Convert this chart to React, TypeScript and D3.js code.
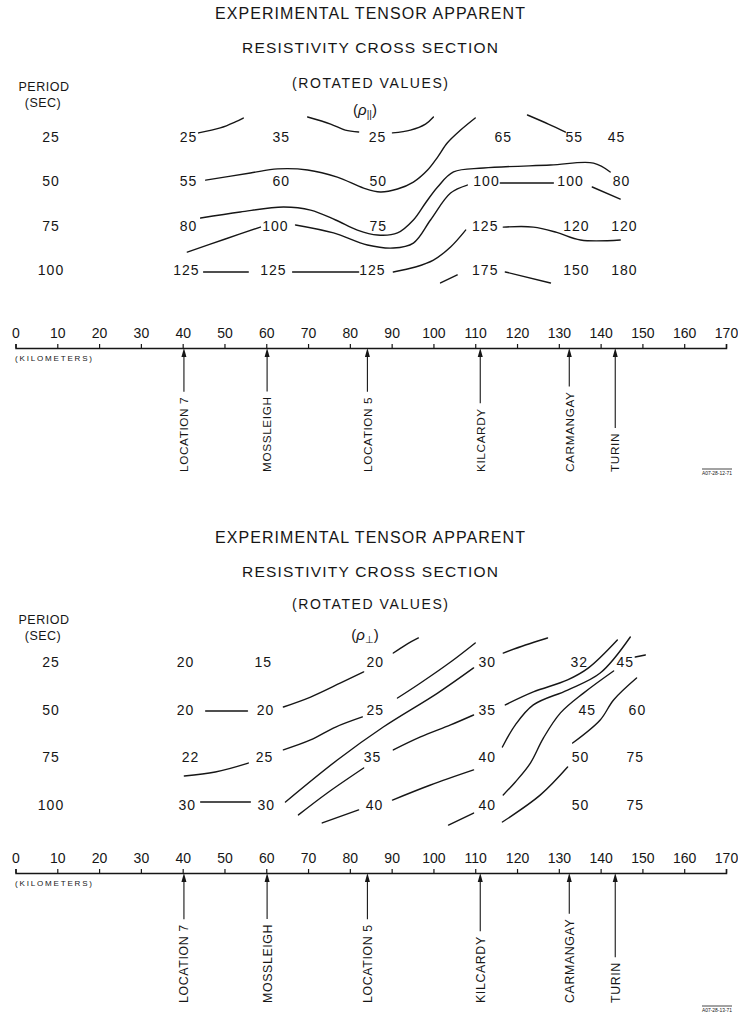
import React, { useEffect, useRef } from 'react';
import * as d3 from 'd3';

// Distance axis (kilometers) and period rows (seconds)
const distanceTicks = [0, 10, 20, 30, 40, 50, 60, 70, 80, 90, 100, 110, 120, 130, 140, 150, 160, 170];
const periods = [25, 50, 75, 100];

// Stations along the profile
const stationNames = ['LOCATION 7', 'MOSSLEIGH', 'LOCATION 5', 'KILCARDY', 'CARMANGAY', 'TURIN'];
const stationKm = [40.3, 60.2, 84.2, 111.2, 132.5, 143.5];

// Rho parallel: values per period row, and where each value sits (km)
const parallelValues = [
  [25, 35, 25, 65, 55, 45],
  [55, 60, 50, 100, 100, 80],
  [80, 100, 75, 125, 120, 120],
  [125, 125, 125, 175, 150, 180],
];
const parallelKm = [
  [41.4, 63.6, 86.6, 116.7, 133.7, 143.8],
  [41.4, 63.6, 86.8, 112.7, 132.8, 145.0],
  [41.4, 62.2, 86.8, 112.4, 134.2, 145.7],
  [40.9, 61.7, 85.4, 112.4, 134.2, 145.7],
];
// contour strokes as [km, period] pairs
const parallelContours = [
  [[43.8, 22.7], [49, 19.9], [52.6, 16.5], [54.5, 14.3]],
  [[69.9, 13.7], [75.4, 17.7], [78.9, 21.1], [82.1, 22.2]],
  [[90.2, 22.7], [94.5, 21.1], [98.1, 17.7], [100, 13.7]],
  [[110, 14.3], [106.5, 21.1], [103.3, 28.4], [101, 36.3], [98.6, 43.6], [95.2, 50.4], [91.4, 54.3], [87.3, 56], [83.3, 53.8], [77, 47.6], [69.9, 43.6], [62.7, 43], [56.2, 45.3], [45.5, 49.3]],
  [[122.5, 12.6], [127.5, 17.7], [131.6, 22.2]],
  [[138, 53.2], [144.7, 60]],
  [[44.3, 70.7], [53.8, 67.3], [64.1, 64.5], [70.6, 66.2], [76.6, 71.8], [81.8, 77.5], [86.6, 80.3], [91.4, 79.1], [95.2, 71.8], [98.1, 62.2], [101, 53.2], [104.8, 44.7], [112, 42.5], [128, 40.8], [138.3, 39.7], [142.3, 44.7]],
  [[41.1, 89.9], [50.2, 82.5], [58.6, 75.8]],
  [[67, 74.6], [76.1, 79.1], [84.2, 85.9], [90.4, 87.6], [95.2, 84.8], [99.3, 71.8], [104.1, 56.6], [108.1, 52.1]],
  [[116, 50.9], [128.7, 50.9]],
  [[45, 101.1], [55.7, 101.1]],
  [[66.3, 101.1], [82.1, 101.1]],
  [[90.4, 101.1], [95.7, 98.3], [100, 94.4], [104.1, 87], [107.7, 77.5]],
  [[116.7, 75.8], [123.9, 75.8], [129.5, 78.8], [135.2, 83.1], [144.7, 83.1]],
  [[117.2, 101.1], [128, 107.3]],
  [[101.7, 107.3], [105.7, 102.8]],
];

// Rho perpendicular
const perpValues = [
  [20, 15, 20, 30, 32, 45],
  [20, 20, 25, 35, 45, 60],
  [22, 25, 35, 40, 50, 75],
  [30, 30, 40, 40, 50, 75],
];
const perpKm = [
  [40.7, 59.3, 86.1, 112.9, 134.9, 145.9],
  [40.7, 59.8, 86.1, 112.9, 136.8, 148.8],
  [41.9, 59.6, 85.4, 112.9, 135.2, 148.3],
  [41.1, 60.0, 85.9, 112.9, 135.2, 148.3],
];
const perpContours = [
  [[90.4, 20.3], [93.3, 16.1], [96.4, 12.4]],
  [[83.3, 30.2], [77.8, 36], [70.6, 43.4], [64.1, 48.6]],
  [[45.5, 50.7], [55.5, 50.7]],
  [[110, 15], [104.1, 25], [96.9, 36], [91.4, 43.9]],
  [[83, 53.8], [76.6, 59.1], [70.6, 65.9], [64.1, 71.1]],
  [[109.6, 28.1], [101, 41.3], [88, 59.1], [77, 76.4], [64.6, 98.4]],
  [[40.4, 84.8], [47.8, 82.7], [55.7, 78]],
  [[83.3, 80.6], [74.6, 93.7], [67.7, 105.2]],
  [[90.4, 71.1], [96.9, 64.3], [104.1, 58], [109.6, 52.8]],
  [[90.2, 97.4], [99.3, 89.5], [109.6, 81.6]],
  [[73.4, 109.4], [82.1, 102.6]],
  [[103.6, 110.5], [109.6, 104.2]],
  [[44.3, 98.4], [56.2, 98.4]],
  [[116.7, 20.3], [122, 16.1], [127.3, 12.4]],
  [[117.2, 47.5], [123.9, 40.7], [132.1, 34.4], [137.1, 28.1], [144, 13.5]],
  [[147.1, 11.9], [139.9, 30.8], [132.1, 39.7], [123.9, 47.5], [119.6, 58], [116.5, 69.6]],
  [[143.1, 29.7], [135.9, 41.3], [130.4, 51.7], [126.3, 64.9], [123.2, 78], [119.6, 87.9], [116.7, 94.7]],
  [[148.6, 33.4], [143.1, 44.9], [139.9, 55.4], [133.3, 67.5]],
  [[148.3, 22.4], [150.7, 21.3]],
  [[132.1, 80.1], [125.6, 94.7], [116.5, 108.9]],
];

const titleLines = ['EXPERIMENTAL TENSOR APPARENT', 'RESISTIVITY CROSS SECTION', '(ROTATED VALUES)'];

const FONT = '"Liberation Sans", Arial, sans-serif';
const INK = '#161616';

// layout for each of the two panels
const panels = [
  {
    titleY: [19, 53, 88], periodY: [91, 107], rhoY: 115, sub: '||',
    rows: [137, 270], axisY: 348, kmY: 361, labelBottom: 472, labelSize: 11.8,
    code: 'A07-28-12-71', codeY: 475,
    values: parallelValues, km: parallelKm, contours: parallelContours,
  },
  {
    titleY: [543, 577, 609], periodY: [624, 640], rhoY: 640, sub: '⊥',
    rows: [662, 805], axisY: 873, kmY: 886, labelBottom: 1003, labelSize: 12.4,
    code: 'A07-28-13-71', codeY: 1012,
    values: perpValues, km: perpKm, contours: perpContours,
  },
];

const App = () => {
  const svgRef = useRef<SVGSVGElement>(null);

  useEffect(() => {
    const svg = d3.select(svgRef.current);
    svg.selectAll('*').remove();

    const x = d3.scaleLinear().domain([0, 170]).range([15.5, 726]);
    const centerX = 370;

    panels.forEach((p) => {
      const y = d3.scaleLinear().domain([25, 100]).range(p.rows);
      const g = svg.append('g').style('font-family', FONT).style('fill', INK);

      // titles
      const widths = [310, 256, 156];
      const sizes = [16, 15.5, 14];
      titleLines.forEach((t, i) => {
        g.append('text')
          .attr('x', centerX)
          .attr('y', p.titleY[i])
          .attr('text-anchor', 'middle')
          .attr('textLength', widths[i])
          .attr('lengthAdjust', 'spacing')
          .style('font-size', `${sizes[i]}px`)
          .text(t);
      });

      // rho label
      const rho = g.append('text')
        .attr('x', centerX - 5)
        .attr('y', p.rhoY)
        .attr('text-anchor', 'middle')
        .style('font-size', '15px');
      rho.append('tspan').text('(');
      rho.append('tspan').style('font-style', 'italic').text('ρ');
      rho.append('tspan').attr('dy', 3).style('font-size', '10px').text(p.sub);
      rho.append('tspan').attr('dy', -3).text(')');

      // period header
      g.append('text').attr('x', 44).attr('y', p.periodY[0]).attr('text-anchor', 'middle')
        .style('font-size', '12.5px').style('letter-spacing', '0.5px').text('PERIOD');
      g.append('text').attr('x', 43).attr('y', p.periodY[1]).attr('text-anchor', 'middle')
        .style('font-size', '12.5px').style('letter-spacing', '0.5px').text('(SEC)');

      // period row labels
      g.selectAll('.row')
        .data(periods)
        .enter()
        .append('text')
        .attr('x', 51)
        .attr('y', (d) => y(d) + 5)
        .attr('text-anchor', 'middle')
        .style('font-size', '14px')
        .style('letter-spacing', '1px')
        .text((d) => d);

      // resistivity values
      p.values.forEach((row, i) => {
        g.selectAll(null)
          .data(row)
          .enter()
          .append('text')
          .attr('x', (_d, j) => x(p.km[i][j]))
          .attr('y', y(periods[i]) + 5)
          .attr('text-anchor', 'middle')
          .style('font-size', '14px')
          .style('letter-spacing', '1px')
          .text((d) => d);
      });

      // contours
      const line = d3.line<number[]>()
        .x((d) => x(d[0]))
        .y((d) => y(d[1]))
        .curve(d3.curveCatmullRom.alpha(0.5));
      g.selectAll(null)
        .data(p.contours)
        .enter()
        .append('path')
        .attr('d', (d) => line(d))
        .style('fill', 'none')
        .style('stroke', INK)
        .style('stroke-width', 1.4)
        .style('stroke-linecap', 'round');

      // distance axis
      const axis = d3.axisTop(x).tickValues(distanceTicks).tickSize(4).tickSizeOuter(4).tickPadding(6);
      const ax = g.append('g').attr('transform', `translate(0,${p.axisY})`).call(axis);
      ax.select('.domain').style('stroke', INK).style('stroke-width', 1.5);
      ax.selectAll('.tick line').style('stroke', INK).style('stroke-width', 1.2);
      ax.selectAll('.tick text')
        .style('font-family', FONT)
        .style('font-size', '14px')
        .style('fill', INK);

      g.append('text')
        .attr('x', 15)
        .attr('y', p.kmY)
        .attr('textLength', 77)
        .attr('lengthAdjust', 'spacing')
        .style('font-size', '8px')
        .text('(KILOMETERS)');

      // station arrows and labels
      stationKm.forEach((km, i) => {
        const sx = x(km);
        const label = g.append('text')
          .attr('transform', `translate(${sx},${p.labelBottom}) rotate(-90)`)
          .attr('dy', '0.36em')
          .style('font-size', `${p.labelSize}px`)
          .style('letter-spacing', '0.6px')
          .text(stationNames[i]);
        const len = (label.node() as SVGTextElement).getComputedTextLength();
        g.append('line')
          .attr('x1', sx).attr('x2', sx)
          .attr('y1', p.axisY + 4)
          .attr('y2', p.labelBottom - len - 5)
          .style('stroke', INK)
          .style('stroke-width', 1.1);
        g.append('path')
          .attr('d', `M${sx},${p.axisY} L${sx - 2.5},${p.axisY + 9} L${sx + 2.5},${p.axisY + 9} Z`)
          .style('fill', INK);
      });

      // drawing code
      g.append('line')
        .attr('x1', 702).attr('x2', 732)
        .attr('y1', p.codeY - 6).attr('y2', p.codeY - 6)
        .style('stroke', INK).style('stroke-width', 0.8);
      g.append('text')
        .attr('x', 702)
        .attr('y', p.codeY)
        .attr('textLength', 30)
        .attr('lengthAdjust', 'spacingAndGlyphs')
        .style('font-size', '6px')
        .text(p.code);
    });
  }, []);

  return (
    <svg
      ref={svgRef}
      width={738}
      height={1020}
      style={{ position: 'absolute', left: 0, top: 0, background: 'white' }}
    />
  );
};

export default App;
